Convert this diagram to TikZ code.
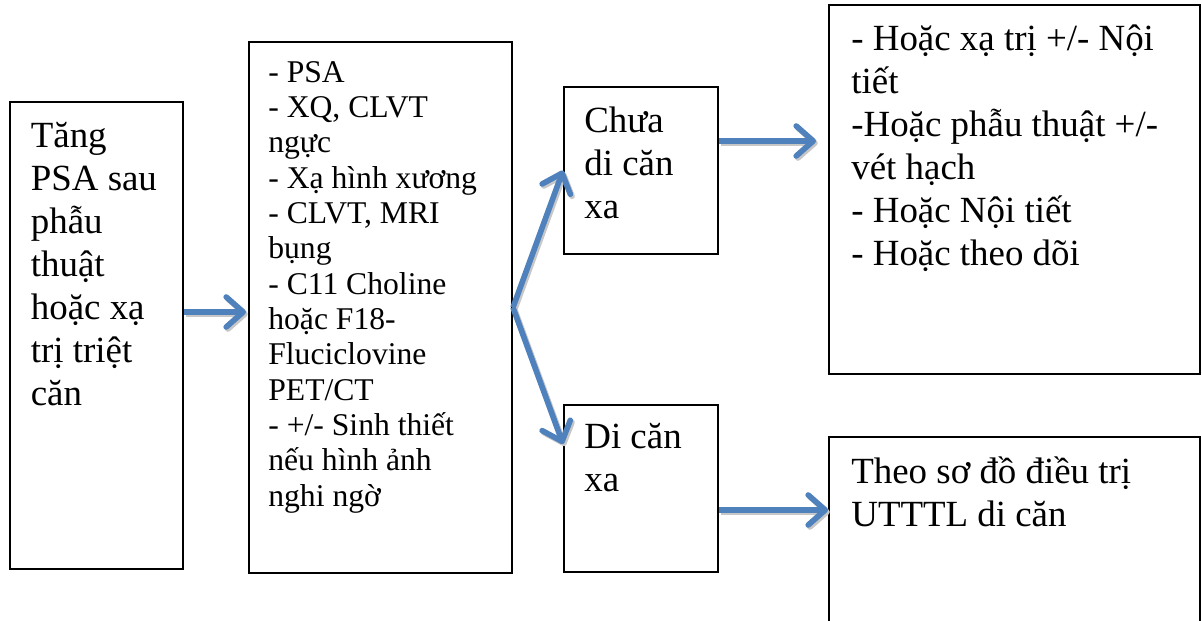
\documentclass[tikz,border=0pt]{standalone}
\usepackage{fontspec}
\setmainfont{Liberation Serif}
\usetikzlibrary{arrows.meta,calc}

\definecolor{arrblue}{HTML}{4F81BD}
\newcommand{\vnstrut}{\rule{0pt}{1.2em}}

\tikzset{
    box/.style={draw, line width=1.1pt, rectangle, inner sep=0pt},
    txt/.style={anchor=north west, inner sep=0pt, align=left, font=\fontsize{21}{24.5}\selectfont},
    smalltxt/.style={txt, font=\fontsize{18}{20.1}\selectfont},
    tip/.style={-{Straight Barb[length=0.34cm,width=0.6cm,round]}},
    arr/.style={tip, draw=arrblue, line width=3.2pt,
        preaction={draw=black!22, tip, line width=3.2pt, transform canvas={shift={(0.035,-0.04)}}}},
}

\begin{document}
\begin{tikzpicture}
    \clip (0,0) rectangle (24.04,-12.42);

    \node[box, minimum width=3.46cm, minimum height=9.34cm] (rise) at (1.93,-6.71) {};
    \node[box, minimum width=5.26cm, minimum height=10.62cm] (tests) at (7.61,-6.15) {};
    \node[box, minimum width=3.08cm, minimum height=3.34cm] (nomet) at (12.82,-3.41) {};
    \node[box, minimum width=3.08cm, minimum height=3.34cm] (met) at (12.82,-9.77) {};
    \node[box, minimum width=7.42cm, minimum height=7.38cm] (local) at (20.29,-3.79) {};
    \node[box, minimum width=7.42cm, minimum height=4.4cm] (meta) at (20.29,-10.94) {};

    \node[txt] (risetext) at (0.61,-2.054) {\vnstrut Tăng\\PSA sau\\phẫu\\thuật\\hoặc xạ\\trị triệt\\căn};
    \node[smalltxt] (teststext) at (5.36,-0.88) {\vnstrut - PSA\\- XQ, CLVT\\ngực\\- Xạ hình xương\\- CLVT, MRI\\bụng\\- C11 Choline\\hoặc F18-\\Fluciclovine\\PET/CT\\- +/- Sinh thiết\\nếu hình ảnh\\nghi ngờ};
    \node[txt] (nomettext) at (11.68,-1.754) {\vnstrut Chưa\\di căn\\xa};
    \node[txt] (mettext) at (11.68,-8.074) {\vnstrut Di căn\\xa};
    \node[txt] (localtext) at (17.02,-0.114) {\vnstrut - Hoặc xạ trị +/- Nội\\tiết\\-Hoặc phẫu thuật +/-\\vét hạch\\- Hoặc Nội tiết\\- Hoặc theo dõi};
    \node[txt] (metatext) at (17.02,-8.774) {\vnstrut Theo sơ đồ điều trị\\UTTTL di căn};

    \draw[arr] ($(rise.east)+(0,0.47)$) -- ($(rise.east -| tests.west)+(-0.04,0.47)$);
    \draw[arr] (tests.east) -- (nomet.west);
    \draw[arr] (tests.east) -- ($(met.north west)+(0,-0.8)$);
    \draw[arr] ($(nomet.east)+(0,0.59)$) -- ($(nomet.east -| local.west)+(-0.24,0.59)$);
    \draw[arr] ($(met.east)+(0,-0.43)$) -- ($(met.east -| meta.west)+(0,-0.43)$);
\end{tikzpicture}
\end{document}
